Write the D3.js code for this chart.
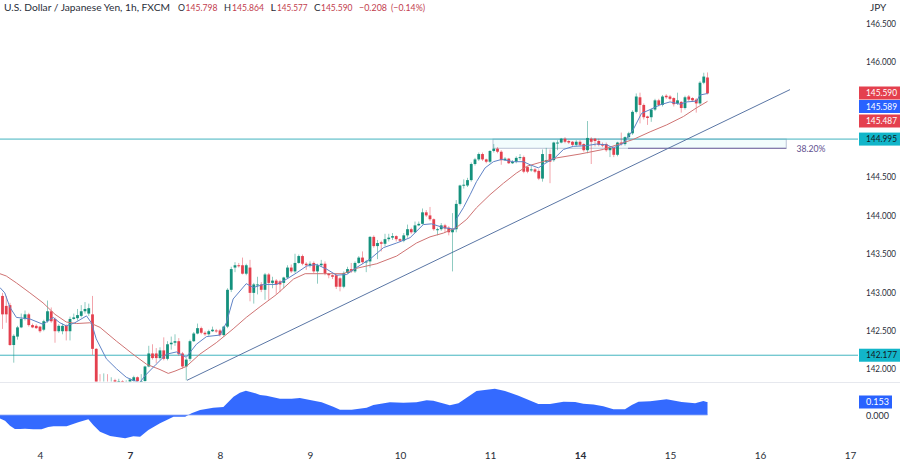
<!DOCTYPE html>
<html>
<head>
  <meta charset="utf-8">
  <title>USD/JPY 1h</title>
  <script src="https://cdn.jsdelivr.net/npm/d3@7"></script>
  <style>
    html, body { margin: 0; padding: 0; background: #fff; }
    svg { display: block; font-family: Lato, sans-serif; }
    .axis path, .axis line { display: none; }
    .axis text { fill: #2a2e39; font-family: Lato, sans-serif; font-size: 10px; }
    .axis.prices text { font-size: 9.1px; }
  </style>
</head>
<body>
<div id="chart"></div>
<script>
// bars are numbered from the left edge of the picture, 24 to a day
var opens = [
  142.95,142.82,142.83,142.31,142.42,142.54,142.65,142.71,142.57,142.56,
  142.55,142.51,142.62,142.75,142.65,142.49,142.49,142.56,142.49,142.65,
  142.66,142.69,142.75,142.72,142.71,142.26,141.75,141.72,141.76,141.74,
  141.85,141.80,141.84,141.80,141.83,141.84,141.89,141.80,141.84,142.03,
  142.20,142.20,142.14,142.24,142.13,142.32,142.34,142.36,142.20,142.03,
  142.13,142.36,142.46,142.53,142.47,142.45,142.49,142.50,142.50,142.44,
  142.55,143.03,143.32,143.35,143.35,143.24,143.32,142.99,143.10,143.10,
  143.03,143.23,143.12,143.15,143.14,143.12,143.19,143.32,143.27,143.38,
  143.47,143.37,143.35,143.38,143.27,143.35,143.37,143.24,143.22,143.22,
  143.18,143.07,143.25,143.30,143.27,143.38,143.45,143.40,143.40,143.72,
  143.60,143.65,143.63,143.69,143.71,143.73,143.69,143.67,143.74,143.82,
  143.78,143.87,143.89,144.04,144.00,143.95,143.82,143.82,143.87,143.84,
  143.78,143.82,144.15,144.39,144.39,144.46,144.67,144.73,144.80,144.73,
  144.70,144.84,144.87,144.83,144.72,144.74,144.68,144.70,144.75,144.76,
  144.63,144.59,144.60,144.58,144.48,144.70,144.80,144.72,144.95,144.95,
  145.00,144.97,144.96,144.92,144.96,144.93,144.85,145.00,145.00,144.97,
  144.93,144.93,144.85,144.88,144.79,144.95,144.93,145.02,145.07,145.35,
  145.54,145.44,145.29,145.28,145.38,145.50,145.44,145.56,145.55,145.53,
  145.46,145.48,145.40,145.55,145.53,145.51,145.46,145.73,145.798
];
var highs = [
  142.99,142.95,142.86,142.45,142.56,142.72,142.76,142.73,142.59,142.58,
  142.56,142.64,142.89,142.80,142.67,142.58,142.59,142.58,142.68,142.72,
  142.78,142.83,142.87,142.85,142.95,142.27,141.93,141.94,141.93,141.89,
  141.87,141.87,141.85,141.85,141.88,141.91,141.90,141.93,142.04,142.30,
  142.32,142.27,142.28,142.41,142.36,142.42,142.45,142.40,142.22,142.14,
  142.38,142.48,142.59,142.55,142.49,142.51,142.55,142.52,142.52,142.56,
  143.05,143.33,143.39,143.38,143.45,143.37,143.42,143.12,143.20,143.13,
  143.25,143.25,143.20,143.17,143.16,143.20,143.35,143.36,143.50,143.49,
  143.49,143.39,143.40,143.40,143.37,143.42,143.40,143.25,143.23,143.24,
  143.20,143.27,143.33,143.38,143.40,143.47,143.53,143.42,143.73,143.74,
  143.68,143.67,143.76,143.76,143.77,143.74,143.70,143.77,143.88,143.84,
  143.92,143.92,144.09,144.07,144.11,143.96,143.84,143.90,143.89,143.86,
  144.03,144.20,144.40,144.47,144.49,144.69,144.75,144.82,144.82,144.74,
  144.85,144.93,144.89,144.85,144.76,144.75,144.72,144.77,144.80,144.78,
  144.64,144.65,144.62,144.60,144.86,144.88,144.86,144.96,144.98,145.01,
  145.02,144.98,144.97,144.98,144.98,144.94,145.23,145.02,145.01,145.00,
  144.95,144.95,144.90,144.90,144.96,145.08,145.03,145.09,145.37,145.59,
  145.60,145.46,145.30,145.39,145.52,145.52,145.57,145.58,145.57,145.54,
  145.60,145.49,145.56,145.57,145.54,145.53,145.75,145.86,145.864
];
var lows = [
  142.52,142.60,142.30,142.08,142.38,142.53,142.63,142.55,142.53,142.52,
  142.47,142.49,142.60,142.60,142.34,142.47,142.45,142.37,142.37,142.64,
  142.63,142.67,142.72,142.69,142.18,141.70,141.68,141.70,141.70,141.72,
  141.74,141.75,141.72,141.74,141.78,141.80,141.80,141.76,141.80,142.02,
  142.12,142.07,142.12,142.11,142.11,142.25,142.30,142.17,142.00,141.85,
  142.10,142.35,142.45,142.45,142.43,142.43,142.48,142.47,142.42,142.42,
  142.53,143.00,143.26,143.32,143.23,143.22,142.88,142.85,142.97,143.00,
  142.90,142.90,143.05,142.97,143.00,143.05,143.18,143.25,143.25,143.37,
  143.35,143.29,143.32,143.25,143.11,143.33,143.22,143.18,143.17,143.04,
  143.01,143.05,143.24,143.25,143.25,143.37,143.37,143.26,143.32,143.58,
  143.43,143.53,143.60,143.66,143.68,143.66,143.65,143.65,143.71,143.76,
  143.77,143.86,143.88,143.98,143.93,143.80,143.74,143.80,143.78,143.74,
  143.27,143.78,144.13,144.35,144.37,144.44,144.65,144.71,144.71,144.68,
  144.68,144.82,144.81,144.66,144.71,144.67,144.67,144.68,144.72,144.55,
  144.55,144.57,144.55,144.46,144.44,144.68,144.42,144.70,144.85,144.94,
  144.94,144.93,144.90,144.90,144.90,144.83,144.81,144.67,144.90,144.90,
  144.89,144.83,144.76,144.76,144.77,144.91,144.91,145.00,145.05,145.33,
  145.20,145.25,145.18,145.22,145.36,145.42,145.42,145.52,145.50,145.42,
  145.44,145.34,145.38,145.49,145.48,145.34,145.44,145.71,145.577
];
var closes = [
  142.71,142.71,142.31,142.43,142.54,142.65,142.71,142.57,142.54,142.53,
  142.49,142.62,142.75,142.62,142.49,142.56,142.56,142.49,142.65,142.67,
  142.70,142.75,142.78,142.79,142.26,141.75,141.72,141.76,141.74,141.78,
  141.80,141.84,141.80,141.83,141.86,141.89,141.84,141.84,142.03,142.20,
  142.14,142.14,142.24,142.13,142.32,142.34,142.36,142.19,142.03,142.12,
  142.36,142.46,142.53,142.47,142.45,142.49,142.51,142.49,142.44,142.55,
  143.03,143.30,143.35,143.34,143.24,143.35,142.99,143.10,143.10,143.03,
  143.23,143.12,143.15,143.10,143.10,143.19,143.32,143.27,143.38,143.47,
  143.37,143.35,143.37,143.27,143.35,143.37,143.24,143.22,143.20,143.07,
  143.07,143.25,143.30,143.27,143.38,143.45,143.39,143.40,143.72,143.60,
  143.64,143.63,143.69,143.71,143.73,143.69,143.67,143.74,143.82,143.78,
  143.87,143.89,144.04,144.00,143.95,143.82,143.82,143.87,143.83,143.78,
  143.82,144.15,144.39,144.40,144.46,144.67,144.73,144.80,144.73,144.70,
  144.84,144.87,144.83,144.72,144.74,144.68,144.70,144.75,144.76,144.57,
  144.57,144.60,144.57,144.48,144.80,144.72,144.70,144.95,144.95,145.00,
  144.96,144.95,144.92,144.96,144.92,144.85,145.01,144.96,144.97,144.92,
  144.91,144.85,144.88,144.79,144.95,144.93,145.02,145.07,145.35,145.55,
  145.44,145.28,145.27,145.38,145.50,145.44,145.55,145.54,145.52,145.45,
  145.50,145.40,145.54,145.51,145.50,145.46,145.73,145.81,145.59
];

// moving averages, read at the bends of each line: [bar, price]
var fastMa = [
  [-0.7,143.06],[0.6,142.99],[2,142.80],[3.7,142.67],[7.3,142.65],[10.8,142.58],[13.5,142.67],
  [15.3,142.60],[17,142.56],[19.3,142.60],[22.4,142.69],[23.7,142.60],[25,142.39],[27.7,142.13],
  [30.4,142.00],[33,141.89],[34.8,141.85],[36.6,141.82],[38,141.91],[41,142.06],[43.7,142.19],
  [46.4,142.22],[49,142.15],[51.7,142.32],[54.4,142.42],[58,142.44],[59.7,142.60],[61.5,142.91],
  [65,143.11],[66.9,143.06],[69.6,143.10],[73.1,143.10],[75.8,143.17],[78.4,143.25],[81.1,143.34],
  [83.8,143.36],[86.4,143.30],[89.1,143.22],[91.8,143.23],[94.4,143.32],[98,143.43],[101.6,143.58],
  [105.1,143.64],[108.7,143.71],[112.2,143.88],[114.4,143.89],[117.6,143.84],[120.7,143.82],
  [121,143.95],[122.9,144.10],[124.7,144.27],[126.4,144.44],[128.7,144.62],[130.9,144.70],
  [133.1,144.73],[136.2,144.70],[138.9,144.70],[140.7,144.66],[142.9,144.62],[145.1,144.69],
  [147.3,144.75],[149.6,144.86],[152.2,144.90],[155.8,144.91],[158.4,144.93],[161.1,144.92],
  [162.9,144.88],[165.6,144.94],[168.2,145.12],[170.4,145.33],[172.7,145.38],[175.3,145.44],
  [178,145.48],[180.7,145.45],[182.5,145.48],[185.1,145.49],[186,145.57],[188,145.589]
];
var slowMa = [
  [-0.7,143.24],[1,143.21],[3.7,143.12],[7.3,142.99],[10.8,142.86],[14,142.71],[17,142.61],
  [19.7,142.59],[23.3,142.60],[26,142.54],[30.4,142.36],[34.8,142.19],[38.4,142.06],[42,141.99],
  [44.2,141.94],[46,141.97],[49,142.03],[52.6,142.19],[57,142.34],[61.5,142.52],[65,142.67],
  [68.7,142.81],[73.1,142.97],[77.6,143.17],[80.7,143.24],[85.6,143.24],[90.9,143.24],[94.4,143.31],
  [99.8,143.37],[105.1,143.47],[110.4,143.64],[114,143.72],[117.6,143.77],[121,143.84],[123.8,143.95],
  [126.4,144.10],[130,144.27],[133.6,144.42],[137,144.55],[139.8,144.64],[143.3,144.69],[147.8,144.75],
  [154,144.80],[160.2,144.86],[163.8,144.92],[168.2,144.99],[172.7,145.09],[177.1,145.18],
  [181.6,145.29],[185,145.40],[188,145.487]
];

// lower pane, same idea
var oscillator = [
  [-0.67,-0.04],[0.67,-0.067],[2,-0.125],[3.3,-0.165],[4.7,-0.165],[6,-0.161],[8.2,-0.169],[10.4,-0.169],
  [12.2,-0.141],[13.6,-0.133],[17.1,-0.133],[20.2,-0.086],[22.9,-0.051],[24.2,-0.118],[26,-0.196],
  [28.7,-0.247],[32.7,-0.274],[34.9,-0.251],[36.7,-0.255],[38.9,-0.176],[42,-0.098],[45.6,-0.02],
  [48.7,-0.02],[50.4,0.02],[52.7,0.059],[56.2,0.086],[58.9,0.094],[61.6,0.216],[63.3,0.263],[64.9,0.286],
  [66.9,0.263],[68.7,0.235],[70.4,0.227],[74,0.192],[77.1,0.192],[79.3,0.2],[82,0.176],[85.1,0.149],
  [88.2,0.098],[90,0.063],[93.1,0.063],[97.1,0.086],[98.9,0.118],[103.3,0.149],[106.9,0.145],[110.4,0.149],
  [113.1,0.173],[114.9,0.169],[119.3,0.114],[121.6,0.137],[126.4,0.282],[131.3,0.31],[134,0.282],
  [137.6,0.227],[142.9,0.129],[146,0.129],[149.6,0.157],[152.7,0.153],[154.9,0.133],[157.6,0.125],
  [160.2,0.102],[162.9,0.067],[166,0.067],[167.8,0.118],[169.6,0.157],[172.7,0.161],[177.1,0.184],
  [181.1,0.153],[184.7,0.137],[186.9,0.165],[187.8,0.153],[188,0.153]
];

// 145 and 145.5 sit under the price tags in the reference, so they are left out
var priceTicks = [142, 142.5, 143, 143.5, 144, 144.5, 146, 146.5];
var dayBars = [10, 34, 58, 82, 106, 130, 154, 178, 202, 226];
var dayLabels = ["4", "7", "8", "9", "10", "11", "14", "15", "16", "17"];
var boldDays = ["7", "14"];

var resistance = 144.995, support = 142.177, fibLevel = 144.875;
var trendBars = [49.2, 210], trendPrices = [141.85, 145.64];
var fibBars = [130.8, 209], fibLineStart = 166.8;

var width = 900, height = 460, axisX = 858, paneBottom = 382;
var green = "#14917d", red = "#e4404e", tealLine = "#42b4bf", tagTeal = "#12b5c9",
    blue = "#2962ff", fastColor = "#5f83c6", slowColor = "#cf7373", ink = "#2a2e39";

var svg = d3.select("#chart").append("svg").attr("width", width).attr("height", height);

var x = d3.scaleLinear().domain([0, 226]).range([2.5, 850]);
var y = d3.scaleLinear().domain([142, 146.5]).range([368.8, 23.65]);
var yOsc = d3.scaleLinear().domain([-1, 1]).range([500, 330]);

// the reference's digits are narrower than Lato's, so squeeze them to its widths
function squeeze(sel, len) {
  sel.attr("textLength", len).attr("lengthAdjust", "spacingAndGlyphs");
}

svg.append("clipPath").attr("id", "pane").append("rect")
  .attr("x", 0).attr("y", 0).attr("width", axisX).attr("height", paneBottom - 0.5);

var pane = svg.append("g").attr("clip-path", "url(#pane)");

// fib box behind everything
pane.append("rect")
  .attr("x", x(fibBars[0])).attr("width", x(fibBars[1]) - x(fibBars[0]))
  .attr("y", y(resistance)).attr("height", y(fibLevel) - y(resistance))
  .attr("fill", "rgba(0,188,212,0.05)").attr("stroke", "#b9c3d6").attr("stroke-width", 1);

// horizontal levels
pane.selectAll("line.level").data([resistance, support]).enter().append("line")
  .attr("class", "level")
  .attr("x1", 0).attr("x2", axisX)
  .attr("y1", function(d) { return y(d); }).attr("y2", function(d) { return y(d); })
  .attr("stroke", tealLine).attr("stroke-width", 1);

pane.append("line")
  .attr("x1", x(fibLineStart)).attr("x2", x(fibBars[1]))
  .attr("y1", y(fibLevel)).attr("y2", y(fibLevel))
  .attr("stroke", "#7565a0").attr("stroke-width", 1);

// trend line
pane.append("line")
  .attr("x1", x(trendBars[0])).attr("x2", x(trendBars[1]))
  .attr("y1", y(trendPrices[0])).attr("y2", y(trendPrices[1]))
  .attr("stroke", "#5a76a5").attr("stroke-width", 1);

// candles
var bars = closes.map(function(c, i) {
  return {i: i, o: opens[i], h: highs[i], l: lows[i], c: c};
});
var color = function(d) { return d.c >= d.o ? green : red; };

pane.selectAll("line.wick").data(bars).enter().append("line")
  .attr("class", "wick")
  .attr("x1", function(d) { return x(d.i); }).attr("x2", function(d) { return x(d.i); })
  .attr("y1", function(d) { return y(d.h); }).attr("y2", function(d) { return y(d.l); })
  .attr("stroke", color).attr("stroke-width", 0.8).attr("stroke-opacity", 0.6);

pane.selectAll("rect.body").data(bars).enter().append("rect")
  .attr("class", "body")
  .attr("x", function(d) { return x(d.i) - 1.4; }).attr("width", 2.8)
  .attr("y", function(d) { return y(Math.max(d.o, d.c)); })
  .attr("height", function(d) { return Math.max(1, Math.abs(y(d.o) - y(d.c))); })
  .attr("fill", color);

// moving averages
var maLine = d3.line()
  .x(function(d) { return x(d[0]); })
  .y(function(d) { return y(d[1]); });

pane.append("path").attr("d", maLine(slowMa))
  .attr("fill", "none").attr("stroke", slowColor).attr("stroke-width", 1);
pane.append("path").attr("d", maLine(fastMa))
  .attr("fill", "none").attr("stroke", fastColor).attr("stroke-width", 1);

// 38.20% label
svg.append("text").attr("x", 796.5).attr("y", y(fibLevel) + 3.5)
  .attr("fill", "#62508f").attr("font-size", 10).text("38.20%")
  .call(squeeze, 29);

// pane separator
svg.append("line").attr("x1", 0).attr("x2", width)
  .attr("y1", paneBottom + 0.5).attr("y2", paneBottom + 0.5)
  .attr("stroke", "#e6e8ee").attr("stroke-width", 1);

// oscillator
var oscArea = d3.area()
  .x(function(d) { return x(d[0]); })
  .y0(yOsc(0))
  .y1(function(d) { return yOsc(d[1]); });

svg.append("path").attr("d", oscArea(oscillator)).attr("fill", blue).attr("fill-opacity", 0.95);
svg.append("line").attr("x1", 0).attr("x2", x(188))
  .attr("y1", yOsc(0)).attr("y2", yOsc(0))
  .attr("stroke", "#8fa9f5").attr("stroke-width", 0.8);

// axes
svg.append("g").attr("class", "axis prices").attr("transform", "translate(" + axisX + ",0)")
  .call(d3.axisRight(y).tickValues(priceTicks).tickSize(0).tickPadding(8).tickFormat(d3.format(".3f")))
  .selectAll("text").call(squeeze, 30);

svg.append("g").attr("class", "axis").attr("transform", "translate(0,452)")
  .call(d3.axisBottom(x).tickValues(dayBars).tickSize(0).tickPadding(0)
    .tickFormat(function(d, i) { return dayLabels[i]; }))
  .selectAll("text")
  .attr("font-weight", function(d, i) { return boldDays.indexOf(dayLabels[i]) >= 0 ? "bold" : null; });

svg.append("text").attr("x", 870).attr("y", 10.5).attr("fill", ink).attr("font-size", 10).text("JPY");

svg.append("text").attr("x", 866).attr("y", yOsc(0) + 3.5).attr("fill", ink).attr("font-size", 10).text("0.000")
  .call(squeeze, 23);

// price tags on the axis
var tags = [
  {label: "145.590", cy: 93, fill: red, text: "#fff", w: 41, len: 31},
  {label: "145.589", cy: 106.5, fill: "#2962ff", text: "#fff", w: 41, len: 31},
  {label: "145.487", cy: 121, fill: red, text: "#fff", w: 41, len: 31},
  {label: d3.format(".3f")(resistance), cy: y(resistance), fill: tagTeal, text: "#131722", w: 41, len: 31},
  {label: d3.format(".3f")(support), cy: y(support), fill: tagTeal, text: "#131722", w: 41, len: 31},
  {label: "0.153", cy: 402, fill: blue, text: "#fff", w: 33, len: 23}
];
var tag = svg.selectAll("g.tag").data(tags).enter().append("g").attr("class", "tag");
tag.append("rect")
  .attr("x", 859).attr("y", function(d) { return d.cy - 6.5; })
  .attr("width", function(d) { return d.w; }).attr("height", 13)
  .attr("fill", function(d) { return d.fill; });
tag.append("text")
  .attr("x", 866).attr("y", function(d) { return d.cy + 3.2; })
  .attr("fill", function(d) { return d.text; }).attr("font-size", 9.1)
  .attr("textLength", function(d) { return d.len; }).attr("lengthAdjust", "spacingAndGlyphs")
  .text(function(d) { return d.label; });

// header
var headerBits = [
  {t: "U.S. Dollar / Japanese Yen, 1h, FXCM", x: 4, c: ink, len: 166},
  {t: "O", x: 178, c: ink, len: 7}, {t: "145.798", x: 185.5, c: "#c2404e", len: 32},
  {t: "H", x: 224, c: ink, len: 7}, {t: "145.864", x: 232, c: "#c2404e", len: 32},
  {t: "L", x: 270.5, c: ink, len: 5.5}, {t: "145.577", x: 277, c: "#c2404e", len: 30.5},
  {t: "C", x: 314, c: ink, len: 6.5}, {t: "145.590", x: 321, c: "#c2404e", len: 31.5},
  {t: "\u22120.208", x: 359, c: "#c2404e", len: 28}, {t: "(\u22120.14%)", x: 391, c: "#c2404e", len: 34}
];
svg.selectAll("text.head").data(headerBits).enter().append("text")
  .attr("class", "head")
  .attr("x", function(d) { return d.x; }).attr("y", 10.5)
  .attr("fill", function(d) { return d.c; }).attr("font-size", 10)
  .attr("textLength", function(d) { return d.len; }).attr("lengthAdjust", "spacingAndGlyphs")
  .text(function(d) { return d.t; });
</script>
</body>
</html>
